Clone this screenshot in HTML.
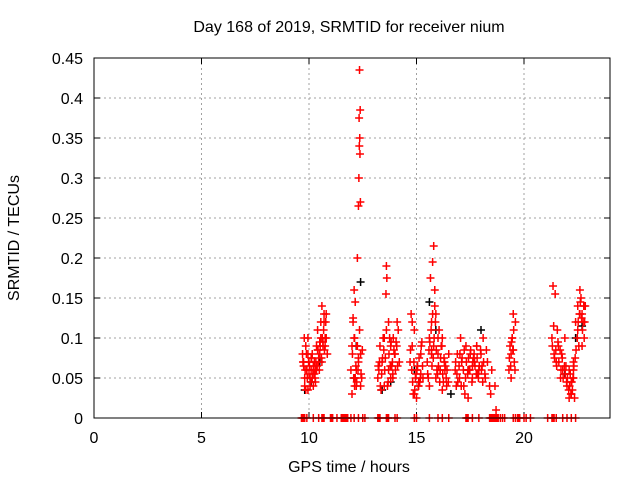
<!DOCTYPE html>
<html><head><meta charset="utf-8"><style>
body{margin:0;background:#fff}
svg text{font-family:"Liberation Sans",sans-serif;font-size:16px;fill:#000}
</style></head><body>
<svg id="c" width="640" height="480" xmlns="http://www.w3.org/2000/svg">
<rect width="640" height="480" fill="#fff"/>
<text x="349" y="32" text-anchor="middle">Day 168 of 2019, SRMTID for receiver nium</text>
<text x="349" y="472" text-anchor="middle">GPS time / hours</text>
<text transform="translate(19,238) rotate(-90)" text-anchor="middle">SRMTID / TECUs</text>
<g id="grid"></g>
<g id="ticks"></g>
<g id="black"></g>
<g id="red"></g>
<rect x="94" y="58" width="516" height="360" fill="none" stroke="#000" stroke-width="1"/>
</svg>
<script>
const xTicks=[0,5,10,15,20];
const yTicks=[0,0.05,0.1,0.15,0.2,0.25,0.3,0.35,0.4,0.45];
const yTickLabels=["0","0.05","0.1","0.15","0.2","0.25","0.3","0.35","0.4","0.45"];
const redT=[9.7,9.75,9.8,9.85,9.9,9.95,10.0,10.05,10.1,10.15,10.2,10.25,10.3,10.35,10.4,10.45,10.5,10.55,10.6,10.65,10.7,10.75,10.8,10.85,9.8,9.9,10.0,10.1,10.2,10.3,10.4,10.5,10.6,10.7,10.8,9.75,9.95,10.15,10.35,10.55,10.75,
11.95,12.0,12.05,12.1,12.15,12.2,12.25,12.3,12.35,12.4,12.45,12.0,12.1,12.2,12.3,12.4,12.35,12.38,12.33,12.36,12.34,12.37,12.32,12.39,12.3,12.25,12.15,12.05,
13.2,13.3,13.4,13.5,13.6,13.7,13.8,13.9,14.0,14.1,14.2,13.25,13.45,13.65,13.85,14.05,13.6,13.62,13.58,13.7,13.9,13.35,13.55,13.75,13.95,14.15,
14.7,14.8,14.9,15.0,15.1,15.2,15.3,14.75,14.85,14.95,15.05,15.15,15.25,14.8,15.0,
15.5,15.6,15.7,15.8,15.9,16.0,16.1,16.2,16.3,16.4,16.5,15.55,15.65,15.75,15.85,15.95,16.05,16.15,16.25,16.35,15.8,15.85,15.9,15.75,15.7,16.0,16.2,
16.8,16.9,17.0,17.1,17.2,17.3,17.4,17.5,17.6,17.7,17.8,17.9,18.0,18.1,18.2,18.3,18.4,18.5,16.85,17.05,17.25,17.45,17.65,17.85,18.05,18.25,18.45,18.65,18.7,
19.3,19.35,19.4,19.45,19.5,19.55,19.6,19.4,19.5,19.45,
21.3,21.4,21.5,21.6,21.7,21.8,21.9,22.0,22.1,22.2,22.3,22.4,22.5,22.6,22.7,22.8,21.35,21.45,21.55,21.75,21.95,22.15,22.35,22.55,22.65,22.75,22.85,22.25,22.2,22.3,22.5,22.6,22.7];
const redV=[0.08,0.07,0.05,0.09,0.06,0.1,0.07,0.05,0.06,0.08,0.04,0.07,0.06,0.09,0.11,0.07,0.08,0.1,0.14,0.09,0.12,0.1,0.13,0.08,0.04,0.06,0.055,0.075,0.065,0.045,0.085,0.095,0.07,0.13,0.1,0.065,0.035,0.05,0.06,0.12,0.09,
0.06,0.09,0.12,0.16,0.05,0.04,0.09,0.07,0.11,0.08,0.05,0.03,0.1,0.06,0.075,0.04,0.435,0.385,0.375,0.35,0.34,0.33,0.3,0.27,0.265,0.2,0.145,0.125,
0.05,0.09,0.07,0.04,0.11,0.06,0.09,0.05,0.08,0.12,0.07,0.06,0.1,0.04,0.065,0.095,0.19,0.175,0.155,0.12,0.055,0.035,0.075,0.1,0.085,0.11,
0.07,0.09,0.11,0.06,0.04,0.08,0.05,0.13,0.03,0.05,0.065,0.045,0.095,0.12,0.025,
0.07,0.1,0.12,0.09,0.05,0.08,0.06,0.1,0.07,0.04,0.08,0.05,0.175,0.195,0.14,0.06,0.11,0.09,0.045,0.065,0.215,0.16,0.13,0.13,0.085,0.1,0.035,
0.06,0.08,0.05,0.07,0.04,0.09,0.06,0.08,0.05,0.07,0.09,0.06,0.08,0.1,0.05,0.07,0.04,0.06,0.04,0.1,0.03,0.06,0.075,0.055,0.065,0.085,0.03,0.04,0.01,
0.06,0.09,0.08,0.1,0.13,0.07,0.12,0.05,0.085,0.1,
0.1,0.08,0.07,0.09,0.05,0.06,0.1,0.04,0.06,0.03,0.05,0.12,0.14,0.16,0.13,0.1,0.165,0.155,0.11,0.08,0.065,0.055,0.025,0.09,0.15,0.12,0.14,0.035,0.045,0.07,0.11,0.13,0.09];
const red2T=[9.72,9.78,9.82,9.88,9.92,9.98,10.02,10.08,10.12,10.18,10.22,10.28,10.32,10.38,10.42,10.48,10.52,10.58,10.62,10.68,10.72,10.78,9.85,9.95,10.05,10.25,10.45,10.65,
12.02,12.08,12.12,12.18,12.22,12.28,12.42,12.48,12.12,12.22,
13.22,13.28,13.32,13.38,13.42,13.48,13.52,13.68,13.72,13.78,13.82,13.88,13.92,13.98,14.02,14.08,14.12,13.5,13.8,
14.72,14.78,14.82,14.88,14.92,14.98,15.02,15.08,15.12,15.18,15.22,15.28,14.9,15.1,15.2,
15.52,15.58,15.62,15.68,15.72,15.78,15.82,15.88,15.92,15.98,16.02,16.08,16.12,16.18,16.22,16.28,16.32,16.38,16.42,16.48,15.6,15.7,16.1,16.3,
16.82,16.88,16.92,16.98,17.02,17.08,17.12,17.18,17.22,17.28,17.32,17.38,17.42,17.48,17.52,17.58,17.62,17.68,17.72,17.78,17.82,17.88,17.92,17.98,18.02,18.08,18.12,18.18,17.4,17.6,17.8,
19.32,19.38,19.42,19.48,19.52,19.58,
21.32,21.38,21.42,21.48,21.52,21.58,21.62,21.68,21.72,21.78,21.82,21.88,21.92,21.98,22.02,22.08,22.12,22.18,22.22,22.28,22.32,22.38,22.42,22.48,22.52,22.58,22.62,22.68,22.72,22.78,22.82,22.1,22.2,22.3];
const red2V=[0.07,0.1,0.06,0.08,0.05,0.07,0.065,0.045,0.075,0.055,0.06,0.05,0.07,0.065,0.085,0.06,0.09,0.075,0.1,0.11,0.085,0.12,0.035,0.08,0.04,0.055,0.075,0.095,
0.08,0.05,0.1,0.065,0.045,0.06,0.055,0.085,0.04,0.09,
0.065,0.07,0.04,0.055,0.075,0.085,0.06,0.045,0.08,0.065,0.095,0.07,0.1,0.08,0.06,0.09,0.065,0.1,0.05,
0.085,0.06,0.045,0.07,0.035,0.055,0.06,0.04,0.075,0.05,0.09,0.065,0.03,0.045,0.055,
0.055,0.085,0.095,0.11,0.065,0.075,0.1,0.12,0.085,0.055,0.065,0.045,0.075,0.09,0.055,0.075,0.06,0.05,0.06,0.045,0.04,0.08,0.06,0.07,
0.07,0.055,0.045,0.065,0.08,0.04,0.075,0.06,0.085,0.05,0.07,0.055,0.075,0.06,0.085,0.045,0.07,0.08,0.065,0.055,0.075,0.05,0.065,0.085,0.06,0.045,0.07,0.055,0.025,0.065,0.09,
0.075,0.065,0.095,0.085,0.11,0.06,
0.09,0.115,0.075,0.085,0.065,0.095,0.07,0.085,0.06,0.075,0.05,0.065,0.055,0.045,0.05,0.035,0.04,0.03,0.045,0.05,0.065,0.075,0.085,0.1,0.12,0.13,0.145,0.125,0.11,0.14,0.12,0.025,0.03,0.06];
const blackT=[9.8,10.1,10.5,12.1,12.2,12.4,13.4,13.8,14.9,15.6,15.9,16.6,17.4,18.0,21.9,22.4,22.7];
const blackV=[0.035,0.045,0.07,0.05,0.09,0.17,0.035,0.045,0.06,0.145,0.11,0.03,0.06,0.11,0.055,0.1,0.115];
const zeroT=[9.65,9.7,9.75,9.8,9.9,10.2,10.45,10.6,10.65,10.7,11.0,11.05,11.1,11.3,11.5,11.55,11.6,11.65,11.7,11.75,11.8,11.95,12.1,12.3,12.5,12.6,13.2,13.25,13.3,13.6,13.65,13.7,14.0,14.1,14.9,15.0,15.6,16.0,16.2,16.5,17.3,17.35,17.4,17.6,17.9,18.4,18.45,18.5,18.55,18.6,18.65,18.7,18.75,18.8,18.9,19.0,19.1,19.5,19.6,19.7,19.75,19.8,20.0,20.1,20.3,21.1,21.3,21.35,21.4,21.5,21.8,22.0,22.2,22.4];
const X=t=>94+t*21.5, Y=v=>418-v*800;
const NS="http://www.w3.org/2000/svg";
function mk(tag,attrs,parent){const e=document.createElementNS(NS,tag);for(const k in attrs)e.setAttribute(k,attrs[k]);parent.appendChild(e);return e;}
const grid=document.getElementById('grid'),ticks=document.getElementById('ticks');
xTicks.forEach(t=>{const x=X(t);
 if(t>0){const g=mk('line',{x1:x,x2:x,y1:58,y2:418,stroke:'#a0a0a0','stroke-dasharray':'2,3'},grid);}
 mk('line',{x1:x,x2:x,y1:418,y2:412,stroke:'#000'},ticks);mk('line',{x1:x,x2:x,y1:58,y2:64,stroke:'#000'},ticks);
 const l=mk('text',{x:x,y:443,'text-anchor':'middle'},ticks);l.textContent=String(t);
 });
yTicks.forEach((v,i)=>{const y=Y(v);
 if(v>0){const g=mk('line',{x1:94,x2:610,y1:y,y2:y,stroke:'#a0a0a0','stroke-dasharray':'2,3'},grid);}
 mk('line',{x1:94,x2:100,y1:y,y2:y,stroke:'#000'},ticks);mk('line',{x1:604,x2:610,y1:y,y2:y,stroke:'#000'},ticks);
 const l=mk('text',{x:83,y:y+6,'text-anchor':'end'},ticks);l.textContent=yTickLabels[i];
 });
function plus(g,t,v,col){const x=X(t),y=Y(v);
 const p=mk('path',{d:`M${x-4},${y}h8M${x},${y-4}v8`,stroke:col,'stroke-width':1.5},g);
 
 }
const gb=document.getElementById('black'),gr=document.getElementById('red');
blackT.forEach((t,i)=>plus(gb,t,blackV[i],'#000'));
redT.forEach((t,i)=>plus(gr,t,redV[i],'#f00'));
red2T.forEach((t,i)=>plus(gr,t,red2V[i],'#f00'));
zeroT.forEach(t=>plus(gr,t,0,'#f00'));
</script>
</body></html>
